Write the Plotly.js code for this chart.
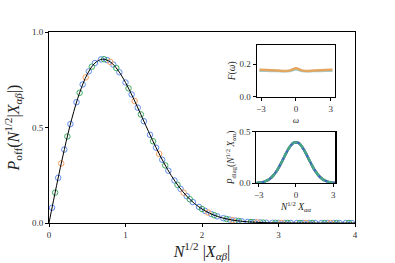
<!DOCTYPE html>
<html><head><meta charset="utf-8">
<script src="https://cdn.plot.ly/plotly-3.0.1.min.js"></script>
<style>html,body{margin:0;padding:0;background:#fff}#c{width:395px;height:263px}</style>
</head><body><div id="c"></div>
<script>
// Main curve P_off
const curveX = [0,0.1,0.2,0.3,0.4,0.5,0.6,0.7,0.8,0.9,1.0,1.1,1.2,1.3,1.4,1.5,1.6,1.7,1.8,1.9,2.0,2.1,2.2,2.3,2.4,2.5,2.6,2.7,2.8,2.9,3.0,3.1,3.2,3.3,3.4,3.5,3.6,3.7,3.8,3.9,4.0];
const curveY = [0,0.198,0.3843,0.5484,0.6817,0.7788,0.8372,0.8577,0.8437,0.8007,0.7358,0.656,0.5686,0.4798,0.3944,0.3162,0.2474,0.189,0.141,0.1028,0.0733,0.0511,0.0348,0.0232,0.0151,0.0097,0.006,0.0037,0.0022,0.0013,0.0007,0.0004,0.0002,0.0001,0.0001,0,0,0,0,0,0];
// Histogram series (blue, fine bins)
const blueX = [0.04,0.12,0.2,0.28,0.36,0.44,0.52,0.6,0.68,0.76,0.84,0.92,1.0,1.08,1.16,1.24,1.32,1.4,1.48,1.56,1.64,1.72,1.8,1.88,1.96,2.04,2.12,2.2,2.28,2.36,2.44,2.52,2.6,2.68,2.76,2.84,2.92,3.0,3.08,3.16,3.24,3.32,3.4,3.48,3.56,3.64,3.72,3.8,3.88,3.96];
const blueY = [0.0799,0.2366,0.3843,0.5178,0.6325,0.7251,0.7936,0.8372,0.8565,0.853,0.8296,0.7893,0.7358,0.6729,0.6041,0.5329,0.4622,0.3944,0.3312,0.2737,0.2227,0.1786,0.141,0.1097,0.0841,0.0636,0.0474,0.0348,0.0252,0.018,0.0127,0.0088,0.006,0.0041,0.0027,0.0018,0.0012,0.0007,0.0005,0.0003,0.0002,0.0001,0.0001,0,0,0,0,0,0,0];
// green, medium bins
const greenX = [0.08,0.24,0.4,0.56,0.72,0.88,1.04,1.2,1.36,1.52,1.68,1.84,2.0,2.16,2.32,2.48,2.64,2.8,2.96,3.12,3.28,3.44,3.6,3.76,3.92];
const greenY = [0.159,0.4531,0.6817,0.8185,0.8575,0.8113,0.7051,0.5686,0.4278,0.3015,0.1998,0.1247,0.0733,0.0407,0.0213,0.0106,0.005,0.0022,0.0009,0.0004,0.0001,0,0,0,0];
// orange, coarse bins
const orangeX = [0.16,0.48,0.8,1.12,1.44,1.76,2.08,2.4,2.72,3.04,3.36,3.68];
const orangeY = [0.3119,0.7624,0.8437,0.6389,0.362,0.159,0.055,0.0151,0.0033,0.0006,0.0001,0];
// Inset 1: F(omega)
const omega = [-3.14,-2.5,-2.0,-1.5,-1.0,-0.6,-0.3,0,0.3,0.6,1.0,1.5,2.0,2.5,3.14];
const F_orange = [0.166,0.165,0.163,0.161,0.159,0.161,0.168,0.175,0.168,0.161,0.159,0.161,0.163,0.165,0.166];
const F_blue = [0.16,0.159,0.158,0.157,0.156,0.157,0.162,0.168,0.162,0.157,0.156,0.157,0.158,0.159,0.16];
// Inset 2: P_diag
const diagX = [-3.2,-3.0,-2.8,-2.6,-2.4,-2.2,-2.0,-1.8,-1.6,-1.4,-1.2,-1.0,-0.8,-0.6,-0.4,-0.2,0,0.2,0.4,0.6,0.8,1.0,1.2,1.4,1.6,1.8,2.0,2.2,2.4,2.6,2.8,3.0,3.2];
const diagY = [0.0024,0.0044,0.0079,0.0136,0.0224,0.0355,0.054,0.079,0.1109,0.1497,0.1942,0.242,0.2897,0.3332,0.3683,0.391,0.3989,0.391,0.3683,0.3332,0.2897,0.242,0.1942,0.1497,0.1109,0.079,0.054,0.0355,0.0224,0.0136,0.0079,0.0044,0.0024];

const FONT = 'Liberation Serif, DejaVu Serif, serif';
const BLUE = 'rgb(95,140,235)', ORANGE = 'rgb(245,160,95)', GREEN = 'rgb(60,170,95)';
const mk = (c) => ({symbol:'circle-open', size:5.5, color:c, line:{width:1, color:c}});

const traces = [
  {x:blueX, y:blueY, mode:'markers', marker:mk(BLUE), xaxis:'x', yaxis:'y'},
  {x:orangeX, y:orangeY, mode:'markers', marker:mk(ORANGE), xaxis:'x', yaxis:'y'},
  {x:greenX, y:greenY, mode:'markers', marker:mk(GREEN), xaxis:'x', yaxis:'y'},
  {x:curveX, y:curveY, mode:'lines', line:{color:'black', width:1, shape:'spline'}, xaxis:'x', yaxis:'y'},
  {x:omega, y:F_blue, mode:'lines', line:{color:'rgb(160,205,215)', width:2.2, shape:'spline'}, xaxis:'x2', yaxis:'y2'},
  {x:omega, y:F_orange, mode:'lines', line:{color:'rgb(225,165,95)', width:2.5, shape:'spline'}, xaxis:'x2', yaxis:'y2'},
  {x:diagX, y:diagY, mode:'lines', line:{color:'rgb(225,150,90)', width:2.5, shape:'spline'}, xaxis:'x3', yaxis:'y3'},
  {x:diagX, y:diagY, mode:'lines', line:{color:'rgb(60,100,200)', width:2.5, shape:'spline'}, xaxis:'x3', yaxis:'y3'},
  {x:diagX, y:diagY, mode:'lines', line:{color:'rgb(70,165,135)', width:2.5, dash:'6px,2px', shape:'spline'}, xaxis:'x3', yaxis:'y3'}
];

const ax = (o) => Object.assign({showgrid:false, zeroline:false, showline:true, linecolor:'black', linewidth:1, mirror:true, ticks:'outside', ticklen:3, tickwidth:1, tickcolor:'black', tickfont:{family:FONT, size:9, color:'#333'}}, o);

const layout = {
  width:395, height:263, showlegend:false,
  margin:{l:49, r:40, t:32, b:40},
  paper_bgcolor:'white', plot_bgcolor:'white',
  font:{family:FONT, color:'#222'},
  xaxis: ax({range:[0,4], tickvals:[0,1,2,3,4], ticktext:['0','1','2','3','4'], domain:[0,1],
    title:{text:'<i>N</i><sup>1/2</sup> |<i>X</i><sub><i>αβ</i></sub>|', font:{family:FONT, size:16, color:'#222'}, standoff:6}}),
  yaxis: ax({range:[0,1], tickvals:[0,0.5,1], ticktext:['0.0','0.5','1.0'], domain:[0,1],
    title:{text:'<i>P</i><sub>off</sub>(<i>N</i><sup>1/2</sup>|<i>X</i><sub><i>αβ</i></sub>|)', font:{family:FONT, size:16, color:'#222'}, standoff:8}}),
  xaxis2: ax({anchor:'y2', domain:[0.679,0.935], range:[-3.37,3.37], tickvals:[-3,0,3], ticktext:['−3','0','3'], linewidth:1.2,
    title:{text:'<i>ω</i>', font:{family:FONT, size:9, color:'#222'}, standoff:4}}),
  yaxis2: ax({anchor:'x2', domain:[0.661,0.933], range:[0,0.32], tickvals:[0,0.2], ticktext:['0.0','0.2'], linewidth:1.2,
    title:{text:'<i>F</i>(<i>ω</i>)', font:{family:FONT, size:9.5, color:'#222'}, standoff:2}}),
  xaxis3: ax({anchor:'y3', domain:[0.678,0.936], range:[-3.18,3.18], tickvals:[-3,0,3], ticktext:['−3','0','3'], linewidth:1.2,
    title:{text:'<i>N</i><sup>1/2</sup> <i>X</i><sub><i>αα</i></sub>', font:{family:FONT, size:9.5, color:'#222'}, standoff:3}}),
  yaxis3: ax({anchor:'x3', domain:[0.208,0.478], range:[0,0.5], tickvals:[0,0.5], ticktext:['0.0','0.5'], linewidth:1.2,
    title:{text:'<i>P</i><sub>diag</sub>(<i>N</i><sup>1/2</sup> <i>X</i><sub><i>αα</i></sub>)', font:{family:FONT, size:9.5, color:'#222'}, standoff:2}})
};

Plotly.newPlot('c', traces, layout, {staticPlot:true, displayModeBar:false});
</script>
</body></html>
